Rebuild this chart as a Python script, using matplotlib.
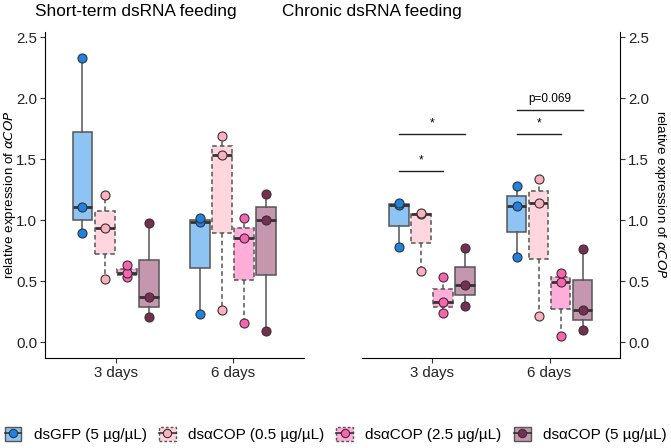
import numpy as np
import matplotlib
matplotlib.use("Agg")
import matplotlib.pyplot as plt
from matplotlib.patches import Patch
from matplotlib.lines import Line2D
from matplotlib.legend_handler import HandlerTuple

plt.rcParams['font.family'] = ['Liberation Sans', 'DejaVu Sans']

days = ["3 days", "6 days"]
groups = ["dsGFP (5 µg/µL)", "dsαCOP (0.5 µg/µL)", "dsαCOP (2.5 µg/µL)", "dsαCOP (5 µg/µL)"]

# short-term feeding, per group: [3 days, 6 days]
short_gfp = [[0.90, 1.11, 2.33], [0.23, 0.99, 1.02]]
short_c05 = [[0.516, 0.94, 1.21], [0.265, 1.535, 1.69]]
short_c25 = [[0.538, 0.571, 0.631], [0.161, 0.858, 1.02]]
short_c5 = [[0.21, 0.374, 0.975], [0.096, 1.003, 1.213]]

# chronic feeding
chron_gfp = [[0.784, 1.13, 1.14], [0.697, 1.12, 1.284]]
chron_c05 = [[0.587, 1.05, 1.06], [0.219, 1.142, 1.339]]
chron_c25 = [[0.243, 0.333, 0.538], [0.055, 0.495, 0.571]]
chron_c5 = [[0.30, 0.47, 0.77], [0.10, 0.265, 0.765]]

short_data = [short_gfp, short_c05, short_c25, short_c5]
chron_data = [chron_gfp, chron_c05, chron_c25, chron_c5]

point_cols = ["#1E82E3", "#FFB0BF", "#FF62B0", "#7A2D52"]
box_cols = ["#8EC4F4", "#FFD6DE", "#FFAED9", "#C497AE"]
dashed = [False, True, True, False]

# significance brackets for chronic panel: (x1, x2, y, label)
sig_lines = [(0.719, 1.094, 1.404, "*"),
             (0.719, 1.281, 1.705, "*"),
             (1.719, 2.094, 1.705, "*"),
             (1.719, 2.281, 1.904, "p=0.069")]

offsets = [-0.28125, -0.09375, 0.09375, 0.28125]
bw = 0.169

fig = plt.figure(figsize=(6.71, 4.48), dpi=100)
ax1 = fig.add_axes([0.067, 0.2016, 0.386, 0.7274])
ax2 = fig.add_axes([0.539, 0.2016, 0.385, 0.7274])


def draw_panel(ax, data):
    for g, series in enumerate(data):
        ls = (0, (3, 2)) if dashed[g] else '-'
        pos = [d + 1 + offsets[g] for d in range(len(days))]
        bp = ax.boxplot(series, positions=pos, widths=bw, patch_artist=True,
                        showfliers=False, showcaps=False, whis=1.5,
                        manage_ticks=False)
        for b in bp['boxes']:
            b.set(facecolor=box_cols[g], edgecolor="#555555", linewidth=1.1, linestyle=ls)
        for w in bp['whiskers']:
            w.set(color="#555555", linewidth=1.1, linestyle=ls)
        for m in bp['medians']:
            m.set(color="#333333", linewidth=2.0, linestyle='-')
        for p, vals in zip(pos, series):
            ax.plot([p] * len(vals), vals, 'o', ms=6.5, mfc=point_cols[g],
                    mec="#333333", mew=0.8, zorder=5)
    ax.set_xlim(0.4, 2.6)
    ax.set_ylim(-0.125, 2.545)
    ax.set_xticks([1, 2])
    ax.set_xticklabels(days)
    ax.set_yticks([0, 0.5, 1.0, 1.5, 2.0, 2.5])
    ax.set_yticklabels(["0.0", "0.5", "1.0", "1.5", "2.0", "2.5"])
    ax.tick_params(labelsize=10.8, colors="#333333", length=3.5, width=0.8,
                   labelcolor="#222222", pad=2.2)
    ax.spines['top'].set_visible(False)


draw_panel(ax1, short_data)
draw_panel(ax2, chron_data)

ax1.spines['right'].set_visible(False)
ax2.spines['left'].set_visible(False)
ax2.yaxis.tick_right()
ax2.yaxis.set_label_position('right')

ylab = r"relative expression of $\mathit{\alpha COP}$"
ax1.set_ylabel(ylab, fontsize=9.6)
ax1.yaxis.set_label_coords(-0.105, 0.5)
ax2.set_ylabel(ylab, fontsize=9.6, rotation=270, labelpad=14)

for x1, x2, y, lab in sig_lines:
    ax2.plot([x1, x2], [y, y], color="#222222", lw=1.0)
    ax2.text((x1 + x2) / 2, y + 0.04, lab, ha='center', va='bottom', fontsize=8.5)

fig.text(0.052, 0.975, "Short-term dsRNA feeding", fontsize=12.4, ha='left', va='center')
fig.text(0.42, 0.975, "Chronic dsRNA feeding", fontsize=12.4, ha='left', va='center')

handles = []
for g in range(len(groups)):
    ls = (0, (2, 1.5)) if dashed[g] else '-'
    patch = Patch(facecolor=box_cols[g], edgecolor="#555555", linestyle=ls, linewidth=1.0)
    mark = Line2D([], [], color="#333333", lw=1.2, marker='o', ms=6, mfc=point_cols[g],
                  mec="#333333", mew=0.8)
    handles.append((patch, mark))

fig.legend(handles, groups, loc='center', bbox_to_anchor=(0.5, 0.03), ncol=4,
           frameon=False, fontsize=11, handlelength=1.1, handleheight=1.1,
           handletextpad=0.8, columnspacing=0.8, borderpad=0.2,
           handler_map={tuple: HandlerTuple(ndivide=1, pad=0)})

fig.savefig("out.png", dpi=100)
